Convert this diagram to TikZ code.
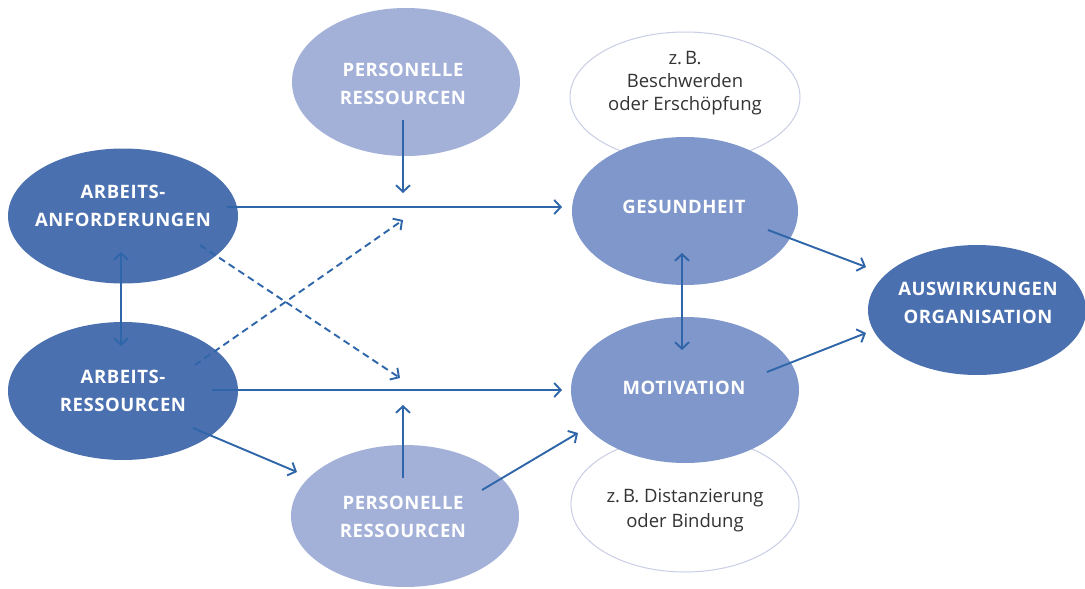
\documentclass[tikz,border=0pt]{standalone}
\usepackage{fontspec}
\setmainfont{Open Sans}
\newfontfamily\capsfont[LetterSpace=3]{Open Sans}
\usetikzlibrary{shapes.geometric,arrows.meta}
\definecolor{darkb}{HTML}{4B70B0}
\definecolor{midb}{HTML}{7F97CA}
\definecolor{lightb}{HTML}{A3B1D9}
\definecolor{arrowc}{HTML}{2E66A9}
\definecolor{rimc}{HTML}{C9CEE6}
\definecolor{txtc}{HTML}{333333}
\begin{document}
\begin{tikzpicture}[x=1pt,y=-1pt,
  blob/.style={ellipse,inner sep=0pt},
  darkblob/.style={blob,fill=darkb},
  midblob/.style={blob,fill=midb},
  lightblob/.style={blob,fill=lightb},
  capstxt/.style={align=center,text=white,inner sep=0pt,
    font=\capsfont\bfseries\fontsize{18.5}{28}\selectfont},
  noteblob/.style={ellipse,inner sep=0pt,draw=rimc,line width=1pt,fill=white},
  notetxt/.style={align=center,text=txtc,inner sep=0pt,font=\fontsize{18.5}{23}\selectfont},
  conn/.style={draw=arrowc,line width=1.9pt,-{Straight Barb[length=6.5pt,width=14pt]}},
  dconn/.style={conn,dash pattern=on 7pt off 4.5pt},
  biconn/.style={draw=arrowc,line width=1.9pt,{Straight Barb[length=6.5pt,width=14pt]}-{Straight Barb[length=6.5pt,width=14pt]}}]
\useasboundingbox (0,0) rectangle (1085,589);
\fill[white] (0,0) rectangle (1085,589);
% note ellipses
\node[noteblob,minimum width=230pt,minimum height=130pt] (beschw) at (685,97) {};
\node[notetxt] (beschwtxt) at (685,83) {z.\,B.\\Beschwerden\\oder Erschöpfung};
\node[noteblob,minimum width=228pt,minimum height=136pt] (dist) at (685,504) {};
\node[notetxt,font=\fontsize{18.5}{25}\selectfont] (disttxt) at (685,510) {z.\,B. Distanzierung\\oder Bindung};
% main ellipses
\node[darkblob,minimum width=230pt,minimum height=135pt] (aa) at (123,216) {};
\node[capstxt] (aatxt) at (123,206) {ARBEITS-\\ANFORDERUNGEN};
\node[darkblob,minimum width=230pt,minimum height=138pt] (ar) at (123,391) {};
\node[capstxt] (artxt) at (123,391) {ARBEITS-\\RESSOURCEN};
\node[lightblob,minimum width=228pt,minimum height=148pt] (prt) at (406,82) {};
\node[capstxt] (prttxt) at (403,84) {PERSONELLE\\RESSOURCEN};
\node[lightblob,minimum width=228pt,minimum height=142pt] (prb) at (405,516) {};
\node[capstxt] (prbtxt) at (403,517) {PERSONELLE\\RESSOURCEN};
\node[midblob,minimum width=226pt,minimum height=148pt] (ges) at (685,211) {};
\node[capstxt] (gestxt) at (684,207) {GESUNDHEIT};
\node[midblob,minimum width=228pt,minimum height=146pt] (mot) at (685,390) {};
\node[capstxt] (mottxt) at (684,388) {MOTIVATION};
\node[darkblob,minimum width=218pt,minimum height=130pt] (aus) at (977,310) {};
\node[capstxt] (austxt) at (978,303) {AUSWIRKUNGEN\\ORGANISATION};
% connector end points
\coordinate (aaR) at (227,207);
\coordinate (gesL) at (562,207);
\coordinate (arR) at (212,390);
\coordinate (motL) at (562,390);
\coordinate (prtS) at (403,120);
\coordinate (prtE) at (403,193);
\coordinate (prbS) at (403,478);
\coordinate (prbE) at (403,405);
\coordinate (aaD) at (200,245);
\coordinate (d1E) at (400,378);
\coordinate (arD) at (195,365);
\coordinate (d2E) at (403,220);
\coordinate (arB) at (193,428);
\coordinate (prbL) at (297,472);
\coordinate (prbR) at (482,490);
\coordinate (motB) at (578,433);
\coordinate (aaB) at (121,252);
\coordinate (arT) at (121,346);
\coordinate (gesB) at (682,253);
\coordinate (motT) at (682,350);
\coordinate (gesR) at (768,230);
\coordinate (ausL1) at (866,267);
\coordinate (motR) at (767,372);
\coordinate (ausL2) at (866,333);
% connectors
\draw[conn] (aaR) -- (gesL);
\draw[conn] (arR) -- (motL);
\draw[conn] (prtS) -- (prtE);
\draw[conn] (prbS) -- (prbE);
\draw[dconn] (aaD) -- (d1E);
\draw[dconn] (arD) -- (d2E);
\draw[conn] (arB) -- (prbL);
\draw[conn] (prbR) -- (motB);
\draw[biconn] (aaB) -- (arT);
\draw[biconn] (gesB) -- (motT);
\draw[conn] (gesR) -- (ausL1);
\draw[conn] (motR) -- (ausL2);
\end{tikzpicture}
\end{document}
